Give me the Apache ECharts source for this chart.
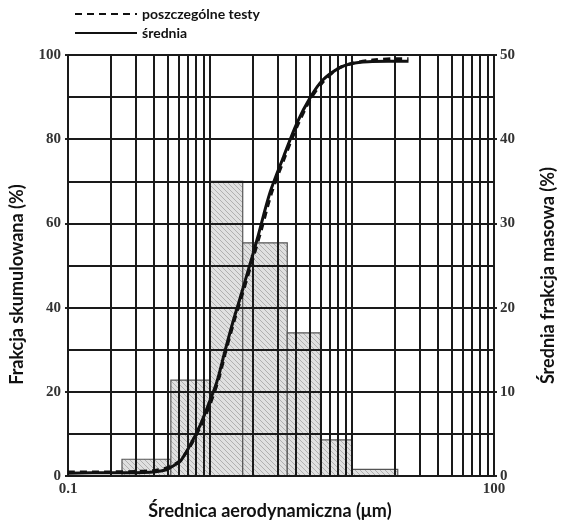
<!DOCTYPE html>
<html>
<head>
<meta charset="utf-8">
<script src="https://cdn.jsdelivr.net/npm/echarts@6/dist/echarts.min.js"></script>
<style>
  html, body { margin: 0; padding: 0; background: #fff; }
  #chart { width: 567px; height: 525px; }
</style>
</head>
<body>
<div id="chart"></div>
<script>
// histogram bins: lower edge, upper edge (µm) and mean mass fraction (%)
const binLower = [0.24, 0.53, 1.0, 1.7, 3.5, 6.0, 10]
const binUpper = [0.53, 1.0, 1.7, 3.5, 6.0, 10, 21]
const binValue = [2.0, 11.4, 35, 27.7, 17, 4.3, 0.8]

// cumulative curve, mean (solid)
const meanX = [0.1, 0.2, 0.3, 0.38, 0.45, 0.5, 0.55, 0.62, 0.72, 0.85, 0.97, 1.12, 1.27, 1.45, 1.62, 1.9, 2.15, 2.65, 3.3, 4.1, 5.1, 6.2, 8.2, 10, 13, 18, 25]
const meanY = [0.7, 0.8, 0.8, 0.9, 1.2, 1.6, 2.4, 3.6, 7.2, 12, 16.8, 22.5, 29.5, 36.6, 42, 50, 56.3, 67.4, 75.9, 83.9, 90, 94, 97, 98, 98.4, 98.5, 98.5]

// cumulative curve, individual tests (dashed)
const testX = [0.1, 0.2, 0.3, 0.4, 0.5, 0.6, 0.7, 0.85, 1.0, 1.15, 1.3, 1.5, 1.7, 2.0, 2.3, 2.7, 3.3, 4.1, 5.1, 6.2, 8, 10, 14, 20, 25]
const testY = [1.0, 1.0, 1.1, 1.3, 2.0, 3.4, 6.2, 11.5, 17, 23, 30, 37.5, 43.5, 51.5, 58.5, 67, 75, 83, 89.5, 93.5, 96.8, 98, 98.8, 99.1, 99.1]

// axis ticks / grid
const decades = [0.1, 1, 10]
const multipliers = [1, 2, 3, 4, 5, 6, 7, 8, 9]
const leftTicks = [0, 10, 20, 30, 40, 50, 60, 70, 80, 90, 100]

const gridX = []
decades.forEach(d => multipliers.forEach(m => gridX.push(+(d * m).toPrecision(3))))
gridX.push(100)

// hatch pattern for bars
const hatch = document.createElement('canvas')
hatch.width = 5
hatch.height = 5
const hc = hatch.getContext('2d')
hc.fillStyle = '#e0e0e0'
hc.fillRect(0, 0, 5, 5)
hc.strokeStyle = '#b0b0b0'
hc.lineWidth = 1
hc.beginPath()
hc.moveTo(0, 0); hc.lineTo(5, 5)
hc.moveTo(-1, 4); hc.lineTo(1, 6)
hc.moveTo(4, -1); hc.lineTo(6, 1)
hc.stroke()

const tickFont = { fontFamily: 'Liberation Serif', fontWeight: 'bold', fontSize: 15, color: '#333' }
const titleFont = { fontFamily: 'Lato', fontWeight: 'bold', fontSize: 18, color: '#111' }

const chart = echarts.init(document.getElementById('chart'), null, { renderer: 'canvas' })

chart.setOption({
  animation: false,
  legend: {
    orient: 'vertical',
    left: 74,
    top: 6,
    padding: 0,
    itemWidth: 62,
    itemHeight: 10,
    itemGap: 3,
    itemStyle: { opacity: 0 },
    data: ['poszczególne testy', 'średnia'],
    textStyle: { fontFamily: 'Lato', fontWeight: 'bold', fontSize: 14, lineHeight: 16, color: '#111' }
  },
  grid: { left: 68, right: 73, top: 55, bottom: 47 },
  xAxis: {
    type: 'log',
    logBase: 10,
    min: 0.1,
    max: 100,
    name: 'Średnica aerodynamiczna (μm)',
    nameLocation: 'middle',
    nameGap: 24,
    nameTextStyle: Object.assign({ padding: [0, 22, 0, 0] }, titleFont),
    axisLine: { show: false },
    axisTick: { show: false },
    splitLine: { show: false },
    axisLabel: Object.assign({
      margin: 6,
      formatter: v => (Math.abs(v - 0.1) < 1e-6 ? '0.1' : Math.abs(v - 100) < 1e-6 ? '100' : '')
    }, tickFont)
  },
  yAxis: [
    {
      type: 'value',
      min: 0,
      max: 100,
      interval: 20,
      name: 'Frakcja skumulowana (%)',
      nameLocation: 'middle',
      nameRotate: 90,
      nameGap: 42,
      nameTextStyle: Object.assign({ padding: [0, 38, 0, 0] }, titleFont),
      axisLine: { show: true, lineStyle: { color: '#222', width: 2 } },
      axisTick: { show: true, length: 3, lineStyle: { color: '#222', width: 2 } },
      splitLine: { show: false },
      axisLabel: Object.assign({ margin: 7 }, tickFont)
    },
    {
      type: 'value',
      min: 0,
      max: 50,
      interval: 10,
      position: 'right',
      name: 'Średnia frakcja masowa (%)',
      nameLocation: 'middle',
      nameRotate: 90,
      nameGap: 45,
      nameTextStyle: Object.assign({ padding: [0, 20, 0, 0] }, titleFont),
      axisLine: { show: true, lineStyle: { color: '#222', width: 2 } },
      axisTick: { show: true, length: 3, lineStyle: { color: '#222', width: 2 } },
      splitLine: { show: false },
      axisLabel: Object.assign({ margin: 6 }, tickFont)
    }
  ],
  series: [
    {
      name: 'histogram',
      type: 'custom',
      yAxisIndex: 1,
      zlevel: 0,
      z: 1,
      encode: { x: [0, 1], y: 2 },
      data: binLower.map((lo, i) => [lo, binUpper[i], binValue[i]]),
      renderItem(params, api) {
        const p0 = api.coord([api.value(0), api.value(2)])
        const p1 = api.coord([api.value(1), 0])
        return {
          type: 'rect',
          shape: { x: p0[0], y: p0[1], width: p1[0] - p0[0], height: p1[1] - p0[1] },
          style: { fill: { image: hatch, repeat: 'repeat' }, stroke: '#555', lineWidth: 1.2 }
        }
      }
    },
    {
      name: 'grid',
      type: 'line',
      zlevel: 1,
      data: [],
      markLine: {
        silent: true,
        zlevel: 1,
        symbol: ['none', 'none'],
        label: { show: false },
        lineStyle: { color: '#1a1a1a', width: 2, type: 'solid' },
        data: gridX.map(x => ({ xAxis: x })).concat(leftTicks.map(y => ({ yAxis: y })))
      }
    },
    {
      name: 'poszczególne testy',
      type: 'line',
      zlevel: 2,
      smooth: 0.3,
      symbol: 'none',
      lineStyle: { color: '#111', width: 3, type: [7, 5] },
      itemStyle: { color: '#111' },
      data: testX.map((x, i) => [x, testY[i]])
    },
    {
      name: 'średnia',
      type: 'line',
      zlevel: 2,
      smooth: 0.3,
      symbol: 'none',
      lineStyle: { color: '#111', width: 3 },
      itemStyle: { color: '#111' },
      data: meanX.map((x, i) => [x, meanY[i]])
    }
  ]
})
</script>
</body>
</html>
